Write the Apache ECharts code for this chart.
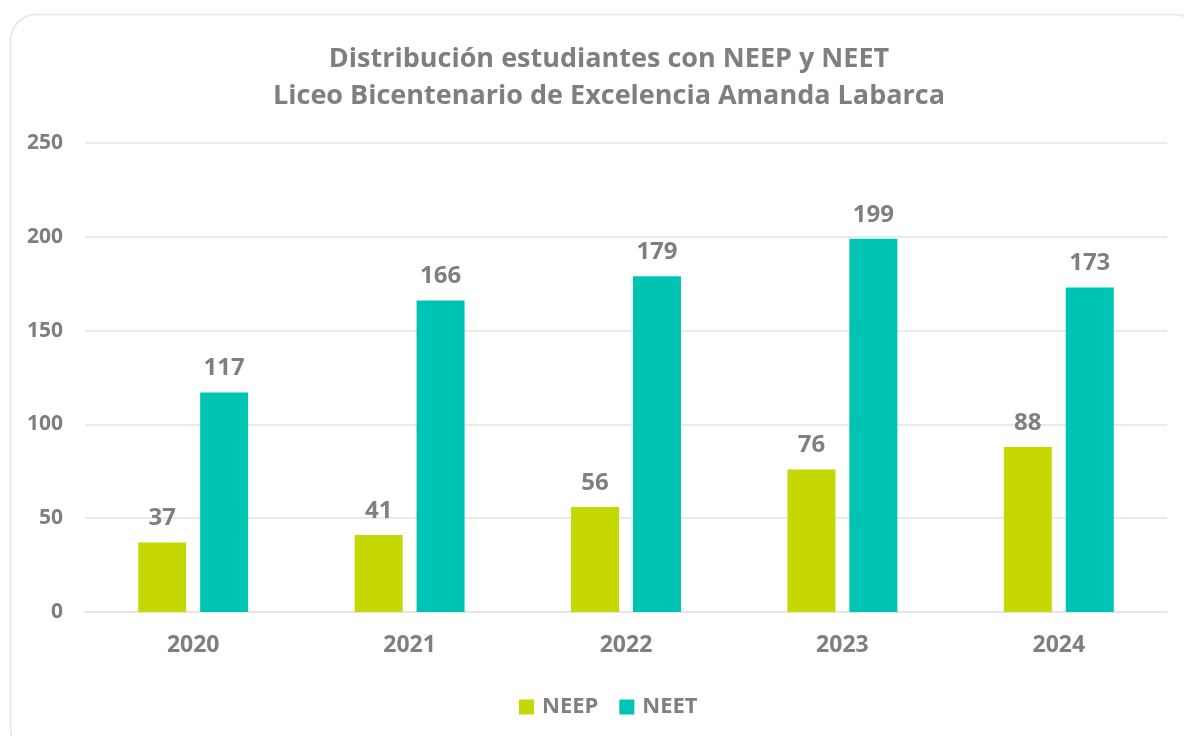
<!DOCTYPE html>
<html>
<head>
<meta charset="utf-8">
<script src="https://cdn.jsdelivr.net/npm/echarts@6/dist/echarts.min.js"></script>
<style>
  html, body { margin: 0; padding: 0; background: #ffffff; }
  #chart { width: 1184px; height: 736px; }
</style>
</head>
<body>
<div id="chart"></div>
<script>
// Students with special educational needs (permanent / transitory) per year
const years = ['2020', '2021', '2022', '2023', '2024'];
const neep = [37, 41, 56, 76, 88];
const neet = [117, 166, 179, 199, 173];
const yTicks = { min: 0, max: 250, interval: 50 };

const titleLines = [
  'Distribución estudiantes con NEEP y NEET',
  'Liceo Bicentenario de Excelencia Amanda Labarca'
];

const gray = '#7f7f7f';
const font = '"Open Sans", "Noto Sans", sans-serif';

const chart = echarts.init(document.getElementById('chart'), null, { renderer: 'canvas' });

const labelStyle = {
  show: true,
  position: 'top',
  distance: 12,
  color: gray,
  fontFamily: font,
  fontWeight: 'bold',
  fontSize: 24
};

chart.setOption({
  backgroundColor: '#ffffff',
  animation: false,
  graphic: [{
    type: 'rect',
    left: 8,
    top: 12,
    shape: { width: 1190, height: 740, r: 26 },
    style: { fill: 'none', stroke: '#dfe8da', lineWidth: 1.5 },
    silent: true,
    z: -1
  }],
  title: {
    text: titleLines.join('\n'),
    left: 604,
    textAlign: 'center',
    top: 36,
    textStyle: {
      color: gray,
      fontFamily: font,
      fontWeight: 'bold',
      fontSize: 27,
      lineHeight: 37
    }
  },
  legend: {
    data: ['NEEP', 'NEET'],
    top: 691,
    left: 514,
    itemWidth: 15,
    itemHeight: 15,
    itemGap: 21,
    icon: 'rect',
    textStyle: {
      color: gray,
      fontFamily: font,
      fontWeight: 'bold',
      fontSize: 22,
      padding: [0, 0, 0, 3]
    }
  },
  grid: {
    left: 85,
    right: 17,
    top: 143,
    bottom: 124,
    containLabel: false
  },
  xAxis: {
    type: 'category',
    data: years,
    axisLine: { show: true, lineStyle: { color: '#dfe7da', width: 1.5 } },
    axisTick: { show: false },
    axisLabel: {
      color: gray,
      fontFamily: font,
      fontWeight: 'bold',
      fontSize: 23,
      margin: 22
    }
  },
  yAxis: {
    type: 'value',
    min: yTicks.min,
    max: yTicks.max,
    interval: yTicks.interval,
    axisLine: { show: false },
    axisTick: { show: false },
    axisLabel: {
      color: gray,
      fontFamily: font,
      fontWeight: 'bold',
      fontSize: 21,
      margin: 22
    },
    splitLine: { lineStyle: { color: '#dfe7da', width: 1.5 } }
  },
  series: [
    {
      name: 'NEEP',
      type: 'bar',
      data: neep,
      barWidth: 48,
      barGap: '29%',
      itemStyle: { color: '#c6d803' },
      label: labelStyle
    },
    {
      name: 'NEET',
      type: 'bar',
      data: neet,
      barWidth: 48,
      itemStyle: { color: '#00c4b3' },
      label: labelStyle
    }
  ]
});
</script>
</body>
</html>
